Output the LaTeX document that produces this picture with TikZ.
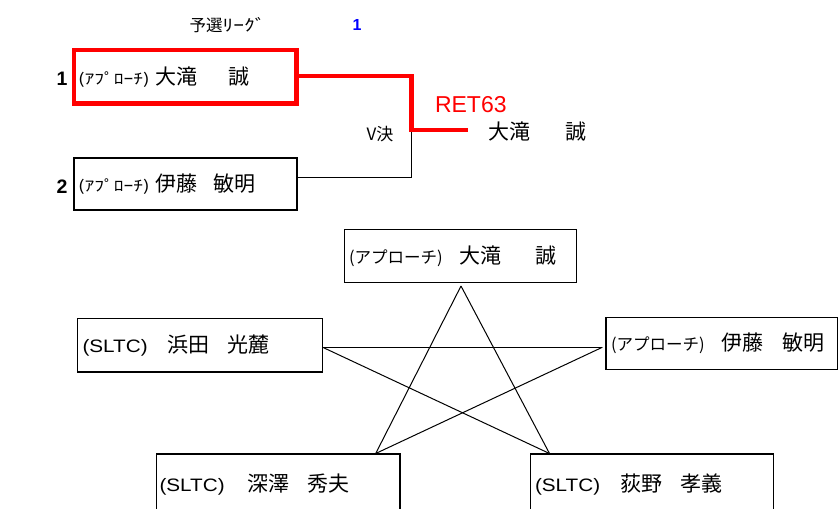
\documentclass[tikz,border=0pt]{standalone}
\usepackage{fontspec}
\setmainfont{Noto Sans CJK JP}
\newfontfamily\latf{Liberation Sans}
\newcommand\fs[1]{\fontsize{#1}{#1}\selectfont}
\newcommand\hwap{\scalebox{1.3}[1]{\fs{15}(ｱﾌﾟﾛｰﾁ)}}
\newcommand\fwap{{\fs{16.5}(アプローチ)}}
\newcommand\sltc{\scalebox{1.15}[1]{\latf\fs{18}(SLTC)}}
\begin{document}
\begin{tikzpicture}[x=1pt,y=-1pt,
  nbox/.style={draw, rectangle, line width=1.3pt, align=left, inner ysep=0pt, font=\fs{21}},
  redbox/.style={nbox, draw=red, line width=4.5pt},
  blkbox/.style={nbox, line width=2pt},
  plain/.style={inner sep=0pt},
  num/.style={plain, font=\latf\bfseries\fs{19.5}},
  starline/.style={line width=1pt, black},
  redline/.style={line width=4.5pt, red},
  blkline/.style={line width=1pt, black}
]
\useasboundingbox (0,0) rectangle (839,509);

% header
\node[plain, font=\fs{16.5}, anchor=west] (title) at (189.5,25) {予選\scalebox{1.3}[1]{ﾘｰｸﾞ}};
\node[plain, font=\latf\bfseries\fs{16}, text=blue] (leagueno) at (357,25) {1};

% bracket boxes
\node[redbox, minimum width=222.7pt, minimum height=53.5pt, text width=214.7pt, inner xsep=4pt]
  (b1) at (185.35,76.75) {\makebox[77pt][l]{\hwap}大滝\hspace{32pt}誠};
\node[blkbox, minimum width=223.6pt, minimum height=52.3pt, text width=215pt, inner xsep=4.3pt]
  (b2) at (185.5,183.85) {\makebox[77pt][l]{\hwap}伊藤\hspace{17pt}敏明};
\node[num] (n1) at (62,79) {1};
\node[num] (n2) at (62,186.5) {2};

% bracket connectors
\coordinate (r1) at (411.7,76);
\coordinate (rj) at (411.7,130);
\coordinate (rend) at (468.3,130);
\coordinate (k1) at (297.3,177);
\coordinate (k2) at (411.7,177);
\draw[blkline] (k1) -- (k2) -- (rj);
\draw[redline] (b1.east |- r1) -- (r1) -- (rj) -- (rend);

\node[plain, font=\fs{17}, anchor=center] (vk) at (380,134.5) {V決};
\node[plain, font=\latf\fs{23}, text=red] (ret) at (470.8,105) {RET63};
\node[plain, font=\fs{21}, anchor=west] (win) at (488,131.7) {大滝\hspace{35pt}誠};

% league boxes
\node[nbox, minimum width=232.4pt, minimum height=53pt, text width=223pt, inner xsep=4.7pt]
  (pt) at (460.5,255.8) {\makebox[110pt][l]{\fwap}大滝\hspace{34pt}誠};
\node[nbox, minimum width=245pt, minimum height=53.7pt, text width=234.6pt, inner xsep=5.2pt]
  (pl) at (199.8,345.15) {\makebox[85pt][l]{\sltc}浜田\hspace{18pt}光麓};
\node[nbox, minimum width=231.5pt, minimum height=52pt, text width=221.5pt, inner xsep=5pt]
  (pr) at (721.75,343.3) {\makebox[110.7pt][l]{\fwap}伊藤\hspace{18.7pt}敏明};
\node[nbox, minimum width=243.2pt, minimum height=62pt, text width=237.8pt, inner xsep=2.7pt]
  (pbl) at (278.4,485) {\makebox[88pt][l]{\sltc}深澤\hspace{18pt}秀夫};
\node[nbox, minimum width=242.8pt, minimum height=62pt, text width=234pt, inner xsep=4.4pt]
  (pbr) at (652,485) {\makebox[85pt][l]{\sltc}荻野\hspace{18.8pt}孝義};

% star
\coordinate (sA) at (461,286);
\coordinate (sL) at (322.7,347.3);
\coordinate (sR) at (602.3,347.3);
\coordinate (sBL) at (375.7,453.5);
\coordinate (sBR) at (549.5,453.5);
\draw[starline] (sA) -- (sBL);
\draw[starline] (sA) -- (sBR);
\draw[starline] (sL) -- (sR);
\draw[starline] (sL) -- (sBR);
\draw[starline] (sR) -- (sBL);
\end{tikzpicture}
\end{document}
